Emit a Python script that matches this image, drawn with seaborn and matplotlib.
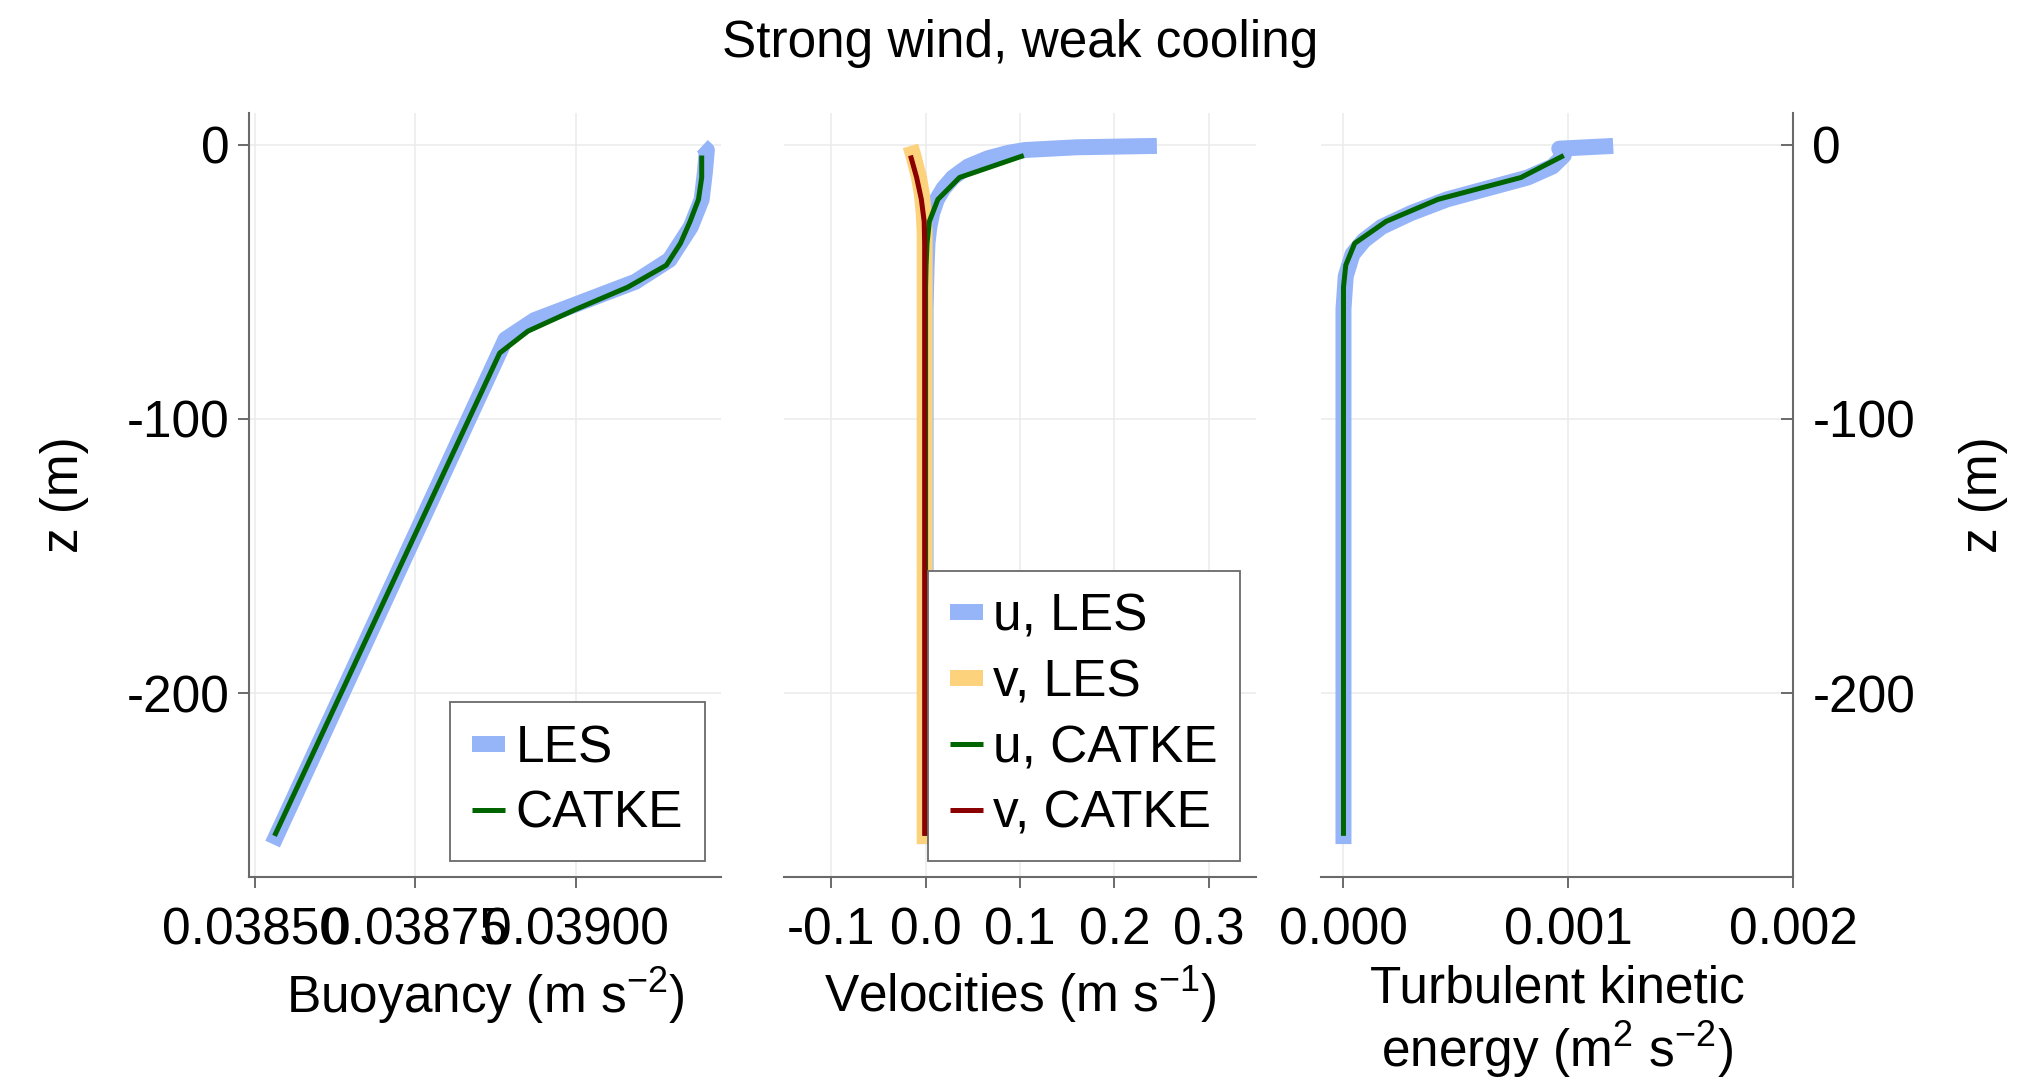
import matplotlib
matplotlib.use("Agg")
import matplotlib.pyplot as plt
import seaborn as sns

# ---------------------------------------------------------------- data
# Buoyancy profiles (z in m, b in m s^-2)
z_b_les = [-0.5, -2, -10, -20, -30, -42, -50, -64, -71, -255]
b_les = [0.039196, 0.039203, 0.039200, 0.039195, 0.039178, 0.039145, 0.039092, 0.038935, 0.038890, 0.038528]
z_b_catke = [-4, -12, -20, -28, -36, -44, -52, -60, -68, -76, -252]
b_catke = [0.039195, 0.039195, 0.039190, 0.039177, 0.039162, 0.039140, 0.039080, 0.039000, 0.038925, 0.038881, 0.038531]

# Velocity profiles (m s^-1)
z_u_les = [-0.5, -1, -2, -3, -5, -8, -12, -16, -20, -25, -30, -36, -45, -60, -255]
u_les = [0.245, 0.16, 0.105, 0.088, 0.066, 0.045, 0.029, 0.019, 0.012, 0.007, 0.004, 0.002, 0.001, 0.0, 0.0]
z_v_les = [-0.5, -4, -8, -12, -18, -25, -32, -40, -255]
v_les = [-0.016, -0.013, -0.010, -0.007, -0.004, -0.002, -0.001, -0.001, -0.001]
z_uv_catke = [-4, -12, -20, -28, -36, -44, -52, -252]
u_catke = [0.104, 0.036, 0.013, 0.004, 0.0015, 0.0005, 0.0, 0.0]
v_catke = [-0.016, -0.0095, -0.0045, -0.0015, -0.001, -0.001, -0.001, -0.001]

# Turbulent kinetic energy (m^2 s^-2)
z_e_les = [-0.5, -1.5, -4, -8, -12, -16, -20, -25, -30, -35, -40, -48, -60, -255]
e_les = [0.00120, 0.00096, 0.00098, 0.00093, 0.00082, 0.00064, 0.00046, 0.00030, 0.00017, 0.00009, 0.00004, 0.00001, 0.0, 0.0]
z_e_catke = [-4, -12, -20, -28, -36, -44, -52, -60, -252]
e_catke = [0.00098, 0.00079, 0.00042, 0.00019, 0.00005, 0.00001, 0.0, 0.0, 0.0]

# Axis ticks
z_ticks = [0, -100, -200]
z_ticklabels = ["0", "-100", "-200"]
b_ticks = [0.0385, 0.03875, 0.039]
b_ticklabels = ["0.03850", "0.03875", "0.03900"]
vel_ticks = [-0.1, 0.0, 0.1, 0.2, 0.3]
vel_ticklabels = ["-0.1", "0.0", "0.1", "0.2", "0.3"]
tke_ticks = [0.0, 0.001, 0.002]
tke_ticklabels = ["0.000", "0.001", "0.002"]

# ---------------------------------------------------------------- style
sns.set_style("white")
plt.rcParams["font.family"] = ["Liberation Sans", "DejaVu Sans"]
plt.rcParams["mathtext.fontset"] = "custom"
plt.rcParams["mathtext.rm"] = "Liberation Sans"
plt.rcParams["mathtext.default"] = "regular"
plt.rcParams["axes.unicode_minus"] = False
plt.rcParams["text.color"] = "black"
plt.rcParams["axes.labelcolor"] = "black"
plt.rcParams["xtick.labelcolor"] = "black"
plt.rcParams["ytick.labelcolor"] = "black"

FS = 37
LES_BLUE = "#96b4f8"
LES_ORANGE = "#fdd27d"
CATKE_GREEN = "#006400"
CATKE_RED = "#8b0000"
SPINE = "#6a6a6a"
GRID = "#ebebeb"
THICK = 11.5
THIN = 3.6

W, H = 2023, 1083
fig = plt.figure(figsize=(W / 100, H / 100), dpi=100)
TOP, BOT = 113, 877


def make_axes(x0, x1):
    return fig.add_axes([x0 / W, 1 - BOT / H, (x1 - x0) / W, (BOT - TOP) / H])


ax_b = make_axes(249, 721)
ax_v = make_axes(784, 1256)
ax_e = make_axes(1321, 1793)


def line(ax, x, y, color, lw, label, z):
    sns.lineplot(x=x, y=y, sort=False, estimator=None, ax=ax, color=color,
                 linewidth=lw, label=label, solid_capstyle="butt",
                 solid_joinstyle="round", zorder=z)


line(ax_b, b_les, z_b_les, LES_BLUE, THICK, "LES", 3)
line(ax_b, b_catke, z_b_catke, CATKE_GREEN, THIN, "CATKE", 4)

line(ax_v, u_les, z_u_les, LES_BLUE, THICK, "u, LES", 3)
line(ax_v, v_les, z_v_les, LES_ORANGE, THICK, "v, LES", 3)
line(ax_v, u_catke, z_uv_catke, CATKE_GREEN, THIN, "u, CATKE", 4)
line(ax_v, v_catke, z_uv_catke, CATKE_RED, THIN, "v, CATKE", 4)

line(ax_e, e_les, z_e_les, LES_BLUE, THICK, None, 3)
line(ax_e, e_catke, z_e_catke, CATKE_GREEN, THIN, None, 4)

limits = {
    ax_b: (0.0384913, 0.039225),
    ax_v: (-0.15, 0.35),
    ax_e: (-0.0001, 0.002),
}
xticks = {
    ax_b: (b_ticks, b_ticklabels, "Buoyancy (m s$^{-2}$)"),
    ax_v: (vel_ticks, vel_ticklabels, "Velocities (m s$^{-1}$)"),
    ax_e: (tke_ticks, tke_ticklabels, "Turbulent kinetic\nenergy (m$^{2}$ s$^{-2}$)"),
}

for ax in (ax_b, ax_v, ax_e):
    ax.set_xlim(*limits[ax])
    ax.set_ylim(-267, 11.5)
    ticks, labels, xlabel = xticks[ax]
    ax.set_xticks(ticks)
    ax.set_xticklabels(labels)
    ax.set_yticks(z_ticks)
    ax.set_yticklabels(z_ticklabels)
    ax.grid(True, color=GRID, linewidth=1.1, zorder=0)
    ax.set_axisbelow(True)
    for s in ax.spines.values():
        s.set_color(SPINE)
        s.set_linewidth(1.5)
        s.set_visible(False)
    ax.spines["bottom"].set_visible(True)
    ax.tick_params(axis="x", direction="out", length=8, width=1.4, color=SPINE,
                   labelsize=FS, labelcolor="black", pad=13, bottom=True)
    ax.set_xlabel(xlabel, fontsize=FS, color="black", linespacing=1.12)
    ax.xaxis.set_label_coords(0.5, -0.115)
    ax.set_ylabel("")
    if ax.get_legend() is not None:
        ax.get_legend().remove()

# left panel: z axis on the left
ax_b.spines["left"].set_visible(True)
ax_b.tick_params(axis="y", direction="out", length=8, width=1.4, color=SPINE,
                 labelsize=FS, labelcolor="black", pad=6, left=True)
ax_b.set_ylabel("z (m)", fontsize=FS, color="black")
ax_b.yaxis.set_label_coords(-0.34, 0.5)

# middle panel: no z axis
ax_v.tick_params(axis="y", left=False, labelleft=False)

# right panel: z axis on the right
ax_e.spines["right"].set_visible(True)
ax_e.yaxis.tick_right()
ax_e.yaxis.set_label_position("right")
ax_e.tick_params(axis="y", direction="in", length=9, width=1.4, color=SPINE,
                 labelsize=FS, labelcolor="black", pad=14, right=True, left=False)
ax_e.set_ylabel("z (m)", fontsize=FS, color="black")
ax_e.yaxis.set_label_coords(1.352, 0.5)

legend_kw = dict(loc="lower right", borderaxespad=0.32, frameon=True,
                 fancybox=False, edgecolor="#6a6a6a", framealpha=1,
                 fontsize=FS, handlelength=0.65, handletextpad=0.2,
                 borderpad=0.42, labelspacing=0.33, labelcolor="black")
for ax in (ax_b, ax_v):
    leg = ax.legend(**legend_kw)
    leg.get_frame().set_linewidth(1.3)

fig.text(1020 / W, 1 - 44 / H, "Strong wind, weak cooling", fontsize=FS,
         ha="center", va="center", color="black")

fig.savefig("out.png", dpi=100, facecolor="white")
